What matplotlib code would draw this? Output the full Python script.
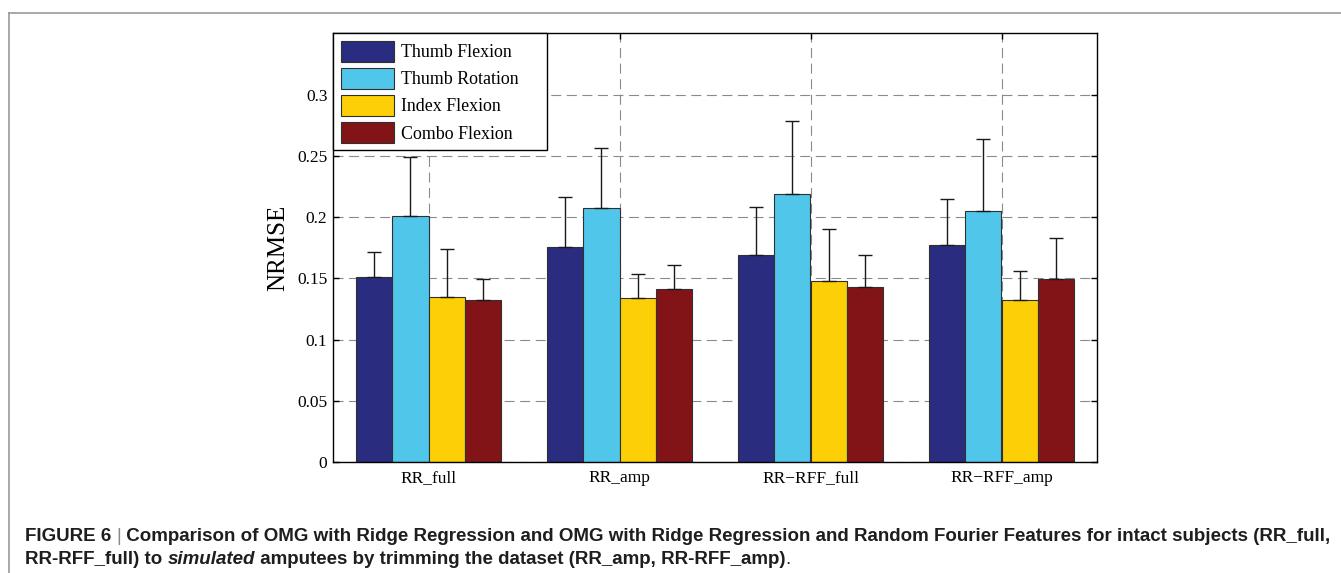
import matplotlib
matplotlib.use('Agg')
import matplotlib.pyplot as plt
import numpy as np
from matplotlib.lines import Line2D
from matplotlib.transforms import IdentityTransform

plt.rcParams['font.family'] = 'Liberation Serif'
plt.rcParams['axes.linewidth'] = 1.0
#
groups = ['RR_full', 'RR_amp', 'RR\u2212RFF_full', 'RR\u2212RFF_amp']
series = ['Thumb Flexion', 'Thumb Rotation', 'Index Flexion', 'Combo Flexion']
colors = ['#2A2C80', '#50C6EA', '#FDCF07', '#821418']
# mean NRMSE per group (rows = series)
thumb_flex = [0.151, 0.1758, 0.169, 0.1775]
thumb_rot = [0.2008, 0.2076, 0.219, 0.2052]
index_flex = [0.135, 0.1342, 0.1481, 0.1323]
combo_flex = [0.1326, 0.1416, 0.1432, 0.1492]
# upper error (std)
thumb_flex_sd = [0.0207, 0.0408, 0.0394, 0.0375]
thumb_rot_sd = [0.0486, 0.0489, 0.0595, 0.0587]
index_flex_sd = [0.039, 0.0196, 0.0424, 0.024]
combo_flex_sd = [0.0171, 0.0196, 0.0261, 0.034]
yticks = [0, 0.05, 0.1, 0.15, 0.2, 0.25, 0.3]
yticklabels = ['0', '0.05', '0.1', '0.15', '0.2', '0.25', '0.3']

means = [thumb_flex, thumb_rot, index_flex, combo_flex]
sds = [thumb_flex_sd, thumb_rot_sd, index_flex_sd, combo_flex_sd]
#
fig = plt.figure(figsize=(13.41, 5.73), dpi=100)
ax = fig.add_axes([333/1341, 1-462/573, 764/1341, 428.7/573])
x = np.arange(1, len(groups)+1)
w = 0.19
for i in range(4):
    xs = x + (i-1.5)*w
    ax.bar(xs, means[i], w, color=colors[i], edgecolor='#303030', lw=0.8,
           label=series[i], zorder=2)
    ax.errorbar(xs, means[i], yerr=[np.zeros(4), sds[i]], fmt='none',
                ecolor='#1a1a1a', elinewidth=1.0, capsize=4.7, capthick=1.0,
                zorder=3)
ax.set_xlim(0.5, 4.5)
ax.set_ylim(0, 0.35)
ax.set_xticks(x)
ax.set_xticklabels(groups, fontsize=12.5)
ax.set_yticks(yticks)
ax.set_yticklabels(yticklabels, fontsize=12.5)
ax.tick_params(direction='in', top=True, right=True, length=4.5, width=1.0)
ax.tick_params(axis='x', pad=6)
ax.tick_params(axis='y', pad=4)
ax.grid(True, color='#8a8a8a', linestyle=(0, (9, 5)), linewidth=0.8, zorder=0)
ax.set_axisbelow(True)
ax.set_ylabel('NRMSE', fontsize=18, labelpad=6)
leg = ax.legend(loc='upper left', bbox_to_anchor=(0, 0, 214/764, 1), mode='expand',
                borderaxespad=0, fancybox=False,
                edgecolor='black', framealpha=1, fontsize=12.9,
                handlelength=3.0, handleheight=1.4, labelspacing=0.36,
                handletextpad=0.35, borderpad=0.42)
leg.get_frame().set_linewidth(1.0)
#
# grey frame of the figure panel
fig.add_artist(Line2D([9/1341, 1], [1-13/573, 1-13/573], color='#9a9a9a', lw=1.2, transform=fig.transFigure))
fig.add_artist(Line2D([9/1341, 9/1341], [0, 1-13/573], color='#9a9a9a', lw=1.2, transform=fig.transFigure))

# caption
r = fig.canvas.get_renderer()
cap = dict(family='Liberation Sans', fontsize=13.5, color='#1e1e1e')
def piece_w(s, **kw):
    t = fig.text(0, 0, 'X' + s + 'X', transform=IdentityTransform(), **kw)
    t2 = fig.text(0, 0, 'XX', transform=IdentityTransform(), **kw)
    wd = t.get_window_extent(r).width - t2.get_window_extent(r).width
    t.remove(); t2.remove()
    return wd
def line(parts, x0, y0):
    xx = x0
    for s, kw in parts:
        k = dict(cap); k.update(kw)
        fig.text(xx, y0, s, transform=IdentityTransform(), va='baseline', **k)
        xx += piece_w(s, **k)
B = dict(weight='bold')
line([('FIGURE 6 ', B), ('|', dict(color='#888888')),
      (' Comparison of OMG with Ridge Regression and OMG with Ridge Regression and Random Fourier Features for intact subjects (RR_full,', B)],
     25, 573-541)
line([('RR-RFF_full) to ', B), ('simulated', dict(weight='bold', style='italic')),
      (' amputees by trimming the dataset (RR_amp, RR-RFF_amp)', B), ('.', {})],
     25, 573-564)

plt.savefig('out.png', dpi=100)
